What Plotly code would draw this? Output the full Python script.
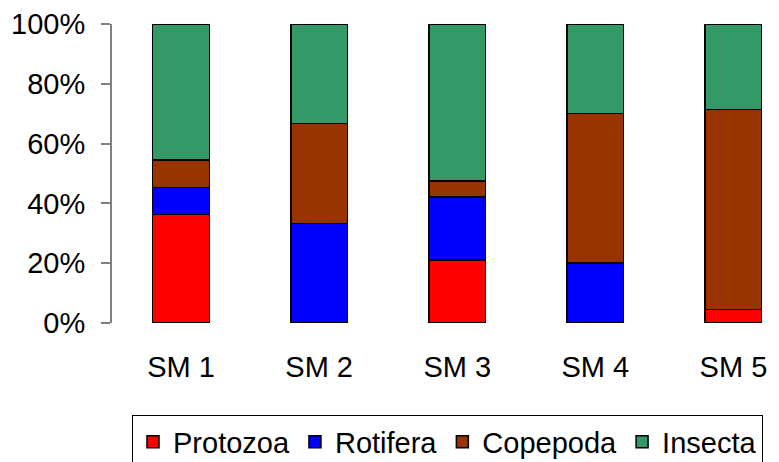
import plotly.graph_objects as go

categories = ["SM 1", "SM 2", "SM 3", "SM 4", "SM 5"]
protozoa = [36.3, 0.0, 21.0, 0.0, 4.6]
rotifera = [9.0, 33.3, 21.2, 20.0, 0.0]
copepoda = [9.3, 33.4, 5.3, 50.0, 66.8]
insecta = [45.4, 33.3, 52.5, 30.0, 28.6]

series_names = ["Protozoa", "Rotifera", "Copepoda", "Insecta"]
series_values = [protozoa, rotifera, copepoda, insecta]
series_colors = ["#FF0000", "#0000FF", "#993300", "#339966"]

y_ticks = [0, 20, 40, 60, 80, 100]

FONT = "Liberation Sans, Arial, sans-serif"

fig = go.Figure()
for name, vals, col in zip(series_names, series_values, series_colors):
    fig.add_trace(go.Bar(
        x=categories, y=vals, name=name,
        marker=dict(color=col, line=dict(color="#000000", width=1.5)),
        width=0.41,
    ))

fig.update_layout(
    width=779, height=462,
    barmode="stack",
    plot_bgcolor="white", paper_bgcolor="white",
    margin=dict(l=112, r=0, t=24, b=138.5, autoexpand=False),
    font=dict(family=FONT, size=29, color="#000000"),
    showlegend=True,
    legend=dict(
        orientation="h",
        x=0.03, xanchor="left",
        y=-0.309, yanchor="top",
        bordercolor="#000000", borderwidth=1,
        bgcolor="white",
        font=dict(family=FONT, size=29, color="#000000"),
        traceorder="normal",
    ),
    xaxis=dict(
        range=[-0.5, 4.33],
        showgrid=False, showline=False, ticks="",
        tickfont=dict(size=29),
        ticklabelstandoff=24,
    ),
    yaxis=dict(
        range=[0, 100],
        tickvals=y_ticks,
        ticktext=[f"{v}%" for v in y_ticks],
        showgrid=False, zeroline=False,
        showline=True, linecolor="#808080", linewidth=2,
        ticks="outside", ticklen=9, tickcolor="#808080", tickwidth=1.5,
        tickfont=dict(size=29),
        ticklabelstandoff=10,
    ),
)

fig.write_html(
    "out.html",
    config={"displayModeBar": False},
    post_script="document.body.style.margin='0';",
)
